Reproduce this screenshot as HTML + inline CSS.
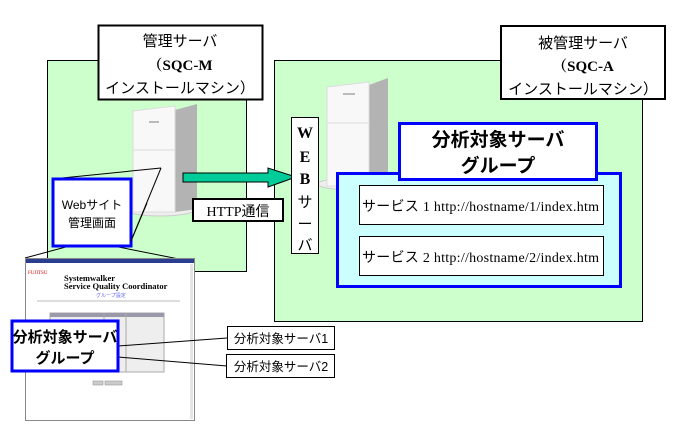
<!DOCTYPE html>
<html><head><meta charset="utf-8"><style>
body{margin:0;background:#fff;width:679px;height:428px;overflow:hidden}
svg text{font-family:"Liberation Serif","Noto Serif CJK SC","Noto Sans CJK JP",serif}
.j{font-family:"Liberation Sans","Noto Sans CJK JP",sans-serif}
</style></head><body>
<svg width="679" height="428" viewBox="0 0 679 428" xmlns="http://www.w3.org/2000/svg">
<rect x="47.5" y="60.5" width="199" height="211" fill="#ccffcc" stroke="#000"/>
<rect x="98.5" y="25.5" width="164" height="74" fill="#fff" stroke="#000" stroke-width="2"/>
<text x="180" y="46" text-anchor="middle" font-size="15" class="j">管理サーバ</text>
<text x="180" y="70" text-anchor="middle" font-size="15" font-weight="bold">（SQC-M</text>
<text x="180" y="93" text-anchor="middle" font-size="15" class="j">インストールマシン）</text>
<rect x="274.5" y="60.5" width="368" height="261" fill="#ccffcc" stroke="#000"/>
<rect x="501" y="26" width="164" height="73" fill="#fff" stroke="#000" stroke-width="2"/>
<text x="583" y="48" text-anchor="middle" font-size="15" class="j">被管理サーバ</text>
<text x="583" y="71" text-anchor="middle" font-size="15" font-weight="bold">（SQC-A</text>
<text x="583" y="94" text-anchor="middle" font-size="15" class="j">インストールマシン）</text>
<g>
<ellipse cx="160" cy="210" rx="34" ry="6" fill="#eee" stroke="#ccc"/>
<polygon points="175,110 197,104 197,200 205,208 175,212" fill="#b3b3b3"/>
<polygon points="133,111 175,106 175,212 133,212" fill="#f8f8f8" stroke="#ddd"/>
<line x1="133" y1="150" x2="175" y2="150" stroke="#ddd"/>
<rect x="149" y="121" width="10" height="2" fill="#bbb"/>
</g>
<g>
<ellipse cx="352" cy="184" rx="34" ry="6" fill="#eee" stroke="#ccc"/>
<polygon points="369,85 388,78 388,175 398,182 369,185" fill="#b3b3b3"/>
<polygon points="327,87 369,82 369,186 327,186" fill="#f8f8f8" stroke="#ddd"/>
<line x1="327" y1="123" x2="369" y2="123" stroke="#ddd"/>
<rect x="343" y="93" width="12" height="2" fill="#bbb"/>
</g>
<polygon points="183,173 268,173 268,168 296,177 268,187 268,182 183,182" fill="#00cc99" stroke="#000"/>
<rect x="193" y="199" width="90" height="22" fill="#fff" stroke="#000" stroke-width="2"/>
<text x="238" y="216" text-anchor="middle" font-size="14">HTTP<tspan class="j">通信</tspan></text>
<rect x="291.5" y="117.5" width="27" height="136" fill="#fff" stroke="#000"/>
<text x="305" y="138" text-anchor="middle" font-size="16" font-weight="bold">W</text>
<text x="305" y="162" text-anchor="middle" font-size="16" font-weight="bold">E</text>
<text x="305" y="184" text-anchor="middle" font-size="16" font-weight="bold">B</text>
<text x="305" y="207" text-anchor="middle" font-size="15" class="j">サ</text>
<text x="305" y="229" text-anchor="middle" font-size="15" class="j">ー</text>
<text x="305" y="250" text-anchor="middle" font-size="15" class="j">バ</text>
<rect x="337.5" y="173.5" width="283" height="113" fill="#ccffff" stroke="#0000ff" stroke-width="3"/>
<rect x="399.5" y="123.5" width="197" height="56" fill="#fff" stroke="#0000ff" stroke-width="3"/>
<text x="498" y="146" text-anchor="middle" font-size="19" font-weight="bold" class="j">分析対象サーバ</text>
<text x="498" y="172" text-anchor="middle" font-size="19" font-weight="bold" class="j">グループ</text>
<rect x="359.5" y="185.5" width="244" height="39" fill="#fff" stroke="#000"/>
<text x="362" y="211" font-size="14" textLength="237"><tspan class="j">サービス</tspan> 1 http://hostname/1/index.htm</text>
<rect x="359.5" y="236.5" width="244" height="39" fill="#fff" stroke="#000"/>
<text x="362" y="262" font-size="14" textLength="237"><tspan class="j">サービス</tspan> 2 http://hostname/2/index.htm</text>
<line x1="52" y1="179" x2="161" y2="168" stroke="#000"/>
<line x1="131" y1="241" x2="161" y2="168" stroke="#000"/>
<line x1="88" y1="241" x2="25" y2="258" stroke="#000"/>
<line x1="88" y1="241" x2="194" y2="262" stroke="#000"/>
<rect x="25.5" y="258.5" width="169" height="162" fill="#fff" stroke="#888"/>
<rect x="26" y="259" width="168" height="4" fill="#2a3d8f"/>
<rect x="190" y="264" width="3" height="155" fill="#e4e4e4"/>
<text x="28" y="274" font-size="5" fill="#d00" font-family="Liberation Sans">FUJITSU</text>
<text x="64" y="281" font-size="8.5" font-weight="bold" font-family="Liberation Sans">Systemwalker</text>
<text x="64" y="289" font-size="8.5" font-weight="bold" font-family="Liberation Sans">Service Quality Coordinator</text>
<text x="96" y="297" font-size="5" fill="#66f" class="j">グループ設定</text>
<line x1="37" y1="301" x2="180" y2="301" stroke="#bbb"/>
<rect x="50" y="313" width="114" height="59" fill="#eee" stroke="#aaa"/>
<rect x="50" y="313" width="114" height="4" fill="#99a"/>
<line x1="126" y1="313" x2="126" y2="372" stroke="#aaa"/>
<line x1="104" y1="313" x2="104" y2="372" stroke="#aaa"/>
<rect x="93" y="381" width="10" height="4" fill="#ccc" stroke="#888" stroke-width=".5"/>
<rect x="105" y="381" width="17" height="4" fill="#ccc" stroke="#888" stroke-width=".5"/>
<line x1="118" y1="346" x2="227" y2="338" stroke="#000"/>
<line x1="118" y1="357" x2="227" y2="366" stroke="#000"/>
<rect x="227.5" y="326.5" width="107" height="23" fill="#fff" stroke="#000"/>
<text x="281" y="343" text-anchor="middle" font-size="12.5" class="j">分析対象サーバ1</text>
<rect x="226.5" y="354.5" width="108" height="23" fill="#fff" stroke="#000"/>
<text x="281" y="371" text-anchor="middle" font-size="12.5" class="j">分析対象サーバ2</text>
<rect x="12" y="321" width="106" height="50" fill="#fff" stroke="#0000ff" stroke-width="3"/>
<text x="65" y="342" text-anchor="middle" font-size="15" font-weight="bold" class="j">分析対象サーバ</text>
<text x="65" y="363" text-anchor="middle" font-size="15" font-weight="bold" class="j">グループ</text>
<rect x="53" y="179" width="78" height="67" fill="#fff" stroke="#0000ff" stroke-width="3"/>
<line x1="131" y1="241" x2="147" y2="203" stroke="#000"/>
<text x="92" y="209" text-anchor="middle" font-size="12" class="j">Webサイト</text>
<text x="92" y="227" text-anchor="middle" font-size="12" class="j">管理画面</text>
</svg>
</body></html>
